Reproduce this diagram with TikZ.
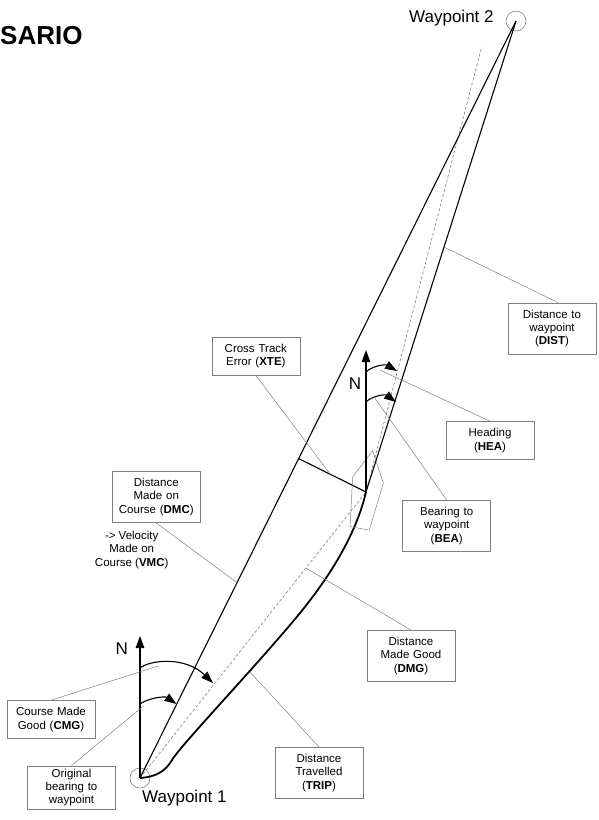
\documentclass[tikz,border=0pt]{standalone}
\usepackage{fontspec}
\setmainfont{Liberation Sans}
\usetikzlibrary{arrows.meta,calc}
\tikzset{
  lbl/.style={draw=gray, line width=0.6pt, text width=78pt, align=center, inner xsep=5pt, inner ysep=7pt, font=\fontsize{11.5}{13.3}\selectfont},
  lead/.style={gray, line width=0.5pt},
  wpt/.style={circle, draw=gray, line width=0.6pt, minimum size=20pt, inner sep=0pt},
  narrow/.style={line width=1.1pt, -{Triangle[length=12pt,width=8.5pt]}},
  crs/.style={line width=1.1pt},
  trk/.style={line width=1.8pt},
  dsh/.style={gray, line width=0.6pt, dash pattern=on 3pt off 2pt}
}
\begin{document}
\begin{tikzpicture}[x=1pt, y=-1pt]
\useasboundingbox (0,0) rectangle (599,820);
\node[anchor=base west, inner sep=0, font=\fontsize{26}{30}\selectfont\bfseries] (ttl) at (0,44) {SARIO};
\node[wpt] (wp1) at (140,778) {};
\node[wpt] (wp2) at (516,21) {};
\node[anchor=base west, inner sep=0, font=\fontsize{17}{20}\selectfont] (wp2lbl) at (409,22.5) {Waypoint 2};
\node[anchor=base west, inner sep=0, font=\fontsize{17}{20}\selectfont] (wp1lbl) at (142,802.5) {Waypoint 1};
\coordinate (boat) at (366,492);
\coordinate (hdg) at (481.7,46.7);
\coordinate (xte) at ($(wp1)!(boat)!(wp2)$);
\draw[dsh] (wp1.center) -- (boat);
\draw[dsh] (boat) -- (hdg);
\draw[crs] (wp1.center) -- (wp2.center);
\draw[crs] (boat) -- (wp2.center);
\draw[crs] (boat) -- (xte);
\draw[trk] (wp1.center) .. controls (155,777) and (165,772) .. (172,760)
  .. controls (180,746) and (260,662) .. (300,613)
  .. controls (335,570) and (357,530) .. (boat);
\draw[gray, line width=0.5pt] ($(boat)+(6.7,-41.3)$) -- ($(boat)+(17.3,-8.7)$) -- ($(boat)+(3.3,38)$)
  -- ($(boat)+(-16,34.7)$) -- ($(boat)+(-13.3,-15.3)$) -- cycle;
\coordinate (n1) at (140,636);
\coordinate (n2) at (366,350);
\draw[narrow] (wp1.center) -- (n1);
\draw[narrow] (boat) -- (n2);
\node[font=\fontsize{17}{20}\selectfont] (n1lbl) at (121.7,648.3) {N};
\node[font=\fontsize{17}{20}\selectfont] (n2lbl) at (355,383.3) {N};
\coordinate (cmg0) at (140,668);
\coordinate (cmg1) at (213,683);
\coordinate (obw0) at (140,704);
\coordinate (obw1) at (176.5,704);
\coordinate (hea0) at (366,372);
\coordinate (hea1) at (397,371);
\coordinate (bea0) at (366,402);
\coordinate (bea1) at (396,402);
\draw[narrow] (cmg0) .. controls (150,660) and (185,656) .. (cmg1);
\draw[narrow] (obw0) .. controls (148,698) and (165,696) .. (obw1);
\draw[narrow] (hea0) .. controls (372,366) and (385,364) .. (hea1);
\draw[narrow] (bea0) .. controls (372,396) and (385,394) .. (bea1);
\node[lbl] (cmg) at (51,719.5) {Course Made Good (\textbf{CMG})};
\node[lbl, inner ysep=3pt] (obw) at (71.5,787.5) {Original\\bearing to\\waypoint};
\node[lbl] (dmc) at (156.3,497) {Distance\\Made on\\Course (\textbf{DMC})};
\node[align=center, inner sep=0, font=\fontsize{11.5}{13.3}\selectfont] (vmc) at (131.7,550) {-> Velocity\\Made on\\Course (\textbf{VMC})};
\node[lbl] (xtebox) at (255.8,356) {Cross Track\\Error (\textbf{XTE})};
\node[lbl] (dist) at (552,328.5) {Distance to\\waypoint\\(\textbf{DIST})};
\node[lbl] (hea) at (490,440.5) {Heading\\(\textbf{HEA})};
\node[lbl] (bea) at (446.7,526) {Bearing to\\waypoint\\(\textbf{BEA})};
\node[lbl] (dmg) at (411,656) {Distance\\Made Good\\(\textbf{DMG})};
\node[lbl] (trip) at (319,773) {Distance\\Travelled\\(\textbf{TRIP})};
\coordinate (cmgp) at (158.3,666);
\coordinate (obwp) at (143.5,706);
\coordinate (dmcp) at ($(wp1)!0.258!(wp2)$);
\coordinate (xtep) at ($(xte)!0.47!(boat)$);
\coordinate (distp) at ($(boat)!0.52!(wp2)$);
\coordinate (heap) at (380,370);
\coordinate (beap) at (375,398.3);
\coordinate (dmgp) at ($(wp1)!0.734!(boat)$);
\coordinate (tripp) at (250,672);
\draw[lead] (cmg.north) -- (cmgp);
\draw[lead] (obw.north) -- (obwp);
\draw[lead] (dmc.south) -- (dmcp);
\draw[lead] (xtebox.south) -- (xtep);
\draw[lead] ([xshift=6pt]dist.north) -- (distp);
\draw[lead] (hea.north) -- (heap);
\draw[lead] (bea.north) -- (beap);
\draw[lead] (dmg.north) -- (dmgp);
\draw[lead] (trip.north) -- (tripp);
\end{tikzpicture}
\end{document}
